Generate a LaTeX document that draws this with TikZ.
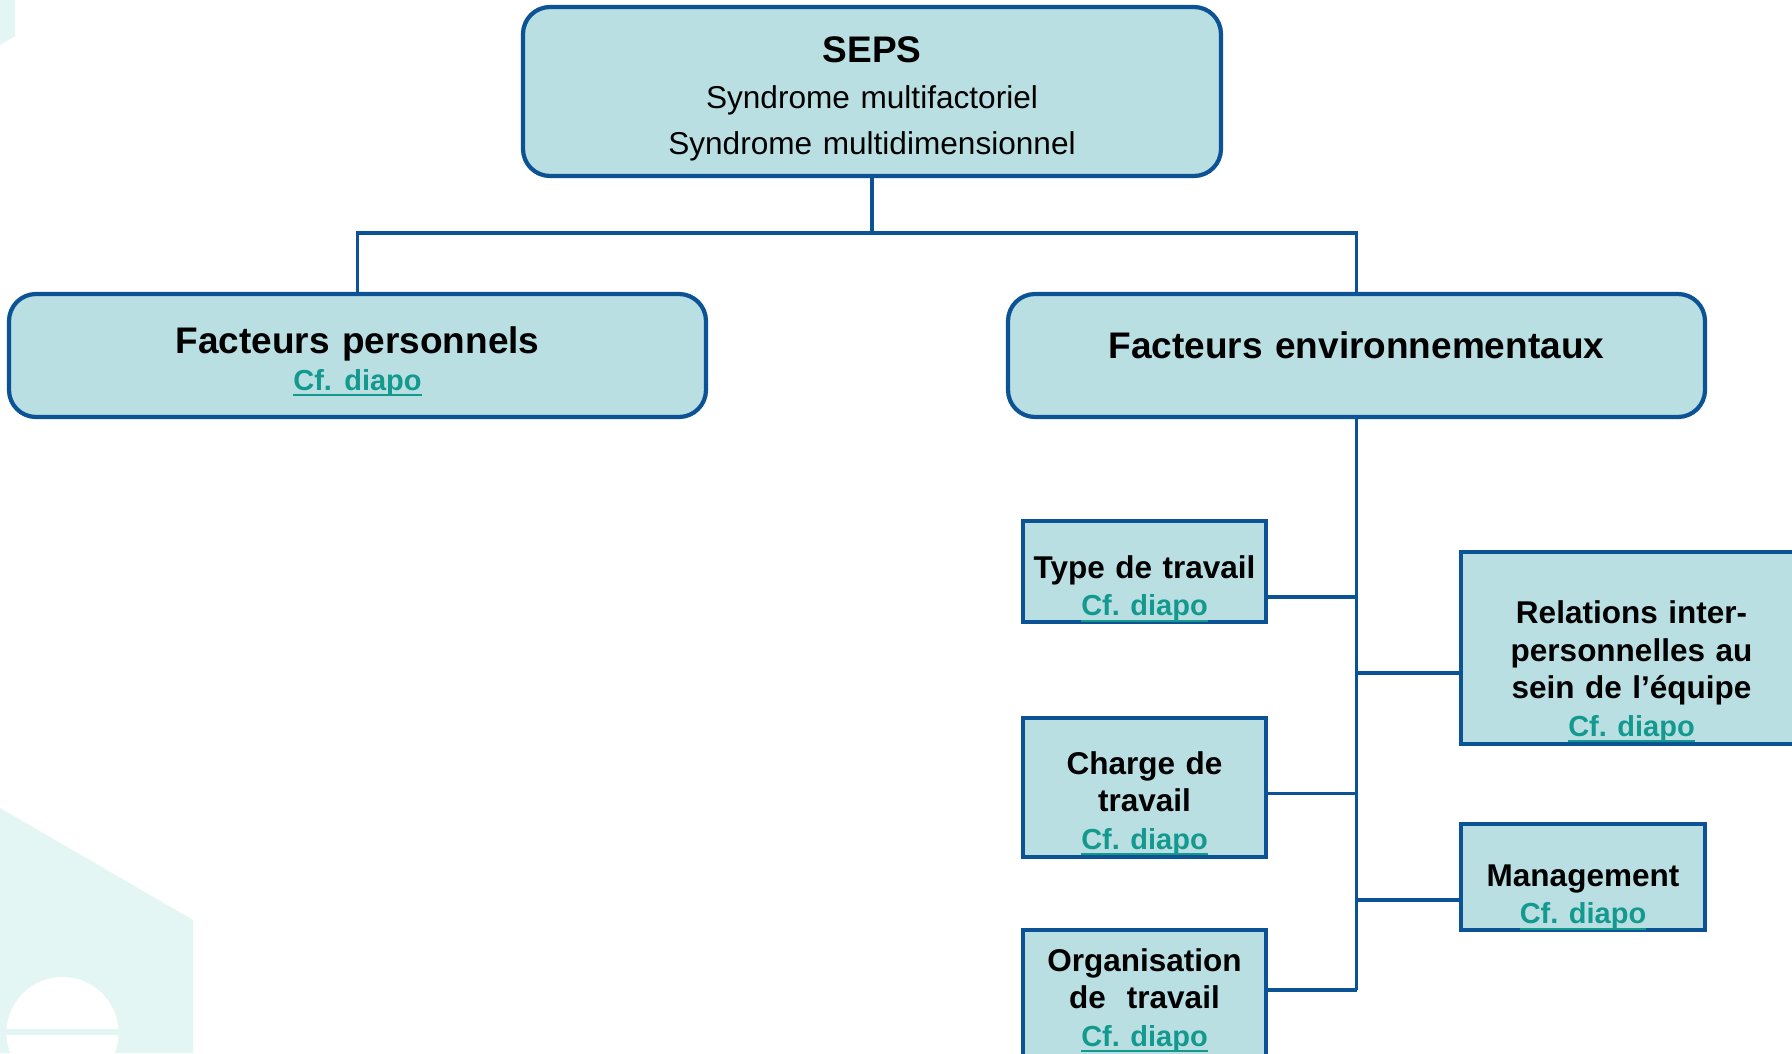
\documentclass[tikz,border=0pt]{standalone}
\usepackage{fontspec}
\setmainfont{Liberation Sans}
\definecolor{boxBlue}{HTML}{0B5394}
\definecolor{boxFill}{HTML}{B9DFE3}
\definecolor{linkTeal}{HTML}{14998F}
\definecolor{hexCyan}{HTML}{E4F6F4}
\newsavebox{\cfbox}
\newcommand{\cfdiapo}{\leavevmode{\fontsize{29}{37.5}\selectfont\color{linkTeal}\sbox{\cfbox}{Cf.\ diapo}\rlap{\rule[-6pt]{\wd\cfbox}{2pt}}\usebox{\cfbox}}}

\begin{document}
\begin{tikzpicture}[x = 1pt, y = -1pt]
	\tikzstyle{roundStyle} = [shape = rectangle, rounded corners = 27pt, draw = boxBlue, line width = 4.2pt, fill = boxFill, inner sep = 0pt, align = center, text width = 697pt, font = \fontsize{37}{37}\selectfont\bfseries]
	\tikzstyle{squareStyle} = [shape = rectangle, draw = boxBlue, line width = 4.2pt, fill = boxFill, inner sep = 0pt, align = center, text width = 243pt, font = \fontsize{31.5}{37.5}\selectfont\bfseries]
	\tikzstyle{linkStyle} = [draw = boxBlue, line width = 3.4pt]
	\tikzstyle{hexStyle} = [fill = hexCyan]
	\useasboundingbox (0, 0) rectangle (1792, 1053);
	\fill[white] (0, 0) rectangle (1792, 1053);
	\fill[hexStyle] (0, 0) -- (15, 0) -- (15, 36) -- (0, 45) -- cycle;
	\fill[hexStyle] (0, 808) -- (193, 920) -- (193, 1053) -- (0, 1053) -- cycle;
	\fill[white] (62.5, 1033) circle (56pt);
	\fill[hexStyle] (0, 1029) rectangle (193, 1035);
	\node[roundStyle, text width = 698pt, text height = 55pt, text depth = 114pt, font = \fontsize{31.6}{46}\selectfont] (seps) at (872, 91.5) {{\bfseries\fontsize{37}{46}\selectfont SEPS}\\Syndrome multifactoriel\\Syndrome multidimensionnel};
	\node[roundStyle, text height = 59pt, text depth = 64pt] (perso) at (357.5, 355.5) {Facteurs personnels\\\cfdiapo};
	\node[roundStyle, text height = 64pt, text depth = 59pt] (envi) at (1356.5, 355.5) {Facteurs environnementaux};
	\node[squareStyle, text height = 57pt, text depth = 44pt] (type) at (1144.5, 571.5) {Type de travail\\\cfdiapo};
	\node[squareStyle, text height = 56pt, text depth = 83pt] (charge) at (1144.5, 787.5) {Charge de\\travail\\\cfdiapo};
	\node[squareStyle, text height = 41pt, text depth = 98pt] (orga) at (1144.5, 999.5) {Organisation\\de\ \ travail\\\cfdiapo};
	\node[squareStyle, text width = 341pt, text height = 71.5pt, text depth = 120.5pt] (relat) at (1631.5, 648) {Relations inter-\\personnelles au\\sein de l’équipe\\\cfdiapo};
	\node[squareStyle, text width = 244pt, text height = 62pt, text depth = 44pt] (mgmt) at (1583, 877) {Management\\\cfdiapo};
	\coordinate (split) at (872, 233);
	\coordinate (jType) at (1356.5, 597);
	\coordinate (jRelat) at (1356.5, 673);
	\coordinate (jCharge) at (1356.5, 793.5);
	\coordinate (jMgmt) at (1356.5, 900);
	\coordinate (jOrga) at (1356.5, 990);
	\draw[linkStyle] (seps) -- (split) -| (perso);
	\draw[linkStyle] (split) -| (envi);
	\draw[linkStyle] (envi) -- (jOrga);
	\draw[linkStyle] (jType) -- (jType -| type.east);
	\draw[linkStyle] (jCharge) -- (jCharge -| charge.east);
	\draw[linkStyle] (jOrga) -- (jOrga -| orga.east);
	\draw[linkStyle] (jRelat) -- (jRelat -| relat.west);
	\draw[linkStyle] (jMgmt) -- (jMgmt -| mgmt.west);
\end{tikzpicture}
\end{document}
